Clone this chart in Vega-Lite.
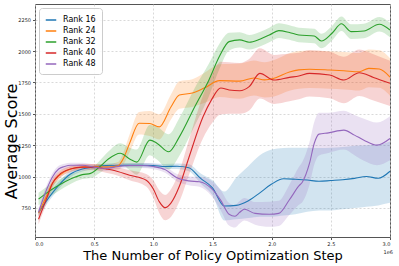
{
 "$schema": "https://vega.github.io/schema/vega-lite/v6.json",
 "width": 355, "height": 233,
 "autosize": {"type": "none"},
 "padding": {"left": 35, "top": 4, "right": 9, "bottom": 29},
 "background": "white",
 "config": {
  "font": "DejaVu Sans",
  "view": {"stroke": "#555", "strokeWidth": 1},
  "axis": {"labelFontSize": 5, "labelColor": "#222", "tickColor": "#555", "tickSize": 2.5, "domain": false, "gridColor": "#c8c8c8", "gridDash": [2, 2], "gridWidth": 0.7, "titleFontWeight": "normal", "titleColor": "#000", "labelPadding": 2, "labelOverlap": false},
  "legend": {"orient": "top-left", "offset": 4, "padding": 6, "fillColor": "rgba(255,255,255,0.85)", "strokeColor": "#ccc", "cornerRadius": 3, "symbolType": "stroke", "symbolSize": 110, "symbolStrokeWidth": 1.5, "labelFontSize": 8, "rowPadding": 0, "labelOffset": 6, "labelColor": "#000", "symbolOpacity": 1, "labelFont": "DejaVu Sans"}
 },
 "data": {"values": [
  {"s":"Rank 16","x":0.03,"m":712,"lo":687,"hi":737},
  {"s":"Rank 16","x":0.1,"m":810,"lo":780,"hi":840},
  {"s":"Rank 16","x":0.2,"m":930,"lo":900,"hi":960},
  {"s":"Rank 16","x":0.3,"m":1020,"lo":995,"hi":1045},
  {"s":"Rank 16","x":0.4,"m":1060,"lo":1040,"hi":1080},
  {"s":"Rank 16","x":0.5,"m":1075,"lo":1060,"hi":1090},
  {"s":"Rank 16","x":0.6,"m":1088,"lo":1073,"hi":1103},
  {"s":"Rank 16","x":0.7,"m":1090,"lo":1075,"hi":1105},
  {"s":"Rank 16","x":0.8,"m":1090,"lo":1075,"hi":1105},
  {"s":"Rank 16","x":0.9,"m":1090,"lo":1073,"hi":1107},
  {"s":"Rank 16","x":1.0,"m":1088,"lo":1070,"hi":1106},
  {"s":"Rank 16","x":1.1,"m":1080,"lo":1060,"hi":1100},
  {"s":"Rank 16","x":1.2,"m":1082,"lo":1060,"hi":1104},
  {"s":"Rank 16","x":1.3,"m":1070,"lo":1042,"hi":1098},
  {"s":"Rank 16","x":1.4,"m":985,"lo":945,"hi":1025},
  {"s":"Rank 16","x":1.5,"m":910,"lo":850,"hi":970},
  {"s":"Rank 16","x":1.6,"m":765,"lo":650,"hi":880},
  {"s":"Rank 16","x":1.7,"m":770,"lo":660,"hi":990},
  {"s":"Rank 16","x":1.8,"m":805,"lo":670,"hi":1080},
  {"s":"Rank 16","x":1.9,"m":870,"lo":680,"hi":1170},
  {"s":"Rank 16","x":2.0,"m":940,"lo":680,"hi":1215},
  {"s":"Rank 16","x":2.1,"m":982,"lo":690,"hi":1228},
  {"s":"Rank 16","x":2.2,"m":978,"lo":700,"hi":1230},
  {"s":"Rank 16","x":2.3,"m":972,"lo":720,"hi":1230},
  {"s":"Rank 16","x":2.4,"m":962,"lo":730,"hi":1228},
  {"s":"Rank 16","x":2.5,"m":968,"lo":730,"hi":1230},
  {"s":"Rank 16","x":2.6,"m":974,"lo":740,"hi":1235},
  {"s":"Rank 16","x":2.7,"m":985,"lo":750,"hi":1245},
  {"s":"Rank 16","x":2.8,"m":1000,"lo":760,"hi":1250},
  {"s":"Rank 16","x":2.9,"m":986,"lo":770,"hi":1255},
  {"s":"Rank 16","x":3.0,"m":1042,"lo":790,"hi":1280},

  {"s":"Rank 24","x":0.03,"m":707,"lo":677,"hi":737},
  {"s":"Rank 24","x":0.1,"m":850,"lo":820,"hi":880},
  {"s":"Rank 24","x":0.15,"m":950,"lo":922,"hi":978},
  {"s":"Rank 24","x":0.2,"m":1005,"lo":980,"hi":1030},
  {"s":"Rank 24","x":0.3,"m":1060,"lo":1040,"hi":1080},
  {"s":"Rank 24","x":0.4,"m":1075,"lo":1055,"hi":1095},
  {"s":"Rank 24","x":0.5,"m":1080,"lo":1060,"hi":1100},
  {"s":"Rank 24","x":0.6,"m":1075,"lo":1055,"hi":1095},
  {"s":"Rank 24","x":0.7,"m":1085,"lo":1055,"hi":1115},
  {"s":"Rank 24","x":0.75,"m":1150,"lo":1100,"hi":1200},
  {"s":"Rank 24","x":0.8,"m":1266,"lo":1196,"hi":1336},
  {"s":"Rank 24","x":0.88,"m":1425,"lo":1335,"hi":1515},
  {"s":"Rank 24","x":0.97,"m":1423,"lo":1323,"hi":1523},
  {"s":"Rank 24","x":1.05,"m":1396,"lo":1296,"hi":1496},
  {"s":"Rank 24","x":1.15,"m":1556,"lo":1456,"hi":1656},
  {"s":"Rank 24","x":1.22,"m":1650,"lo":1540,"hi":1760},
  {"s":"Rank 24","x":1.33,"m":1665,"lo":1555,"hi":1775},
  {"s":"Rank 24","x":1.43,"m":1705,"lo":1585,"hi":1825},
  {"s":"Rank 24","x":1.56,"m":1764,"lo":1634,"hi":1894},
  {"s":"Rank 24","x":1.73,"m":1760,"lo":1620,"hi":1900},
  {"s":"Rank 24","x":1.85,"m":1785,"lo":1645,"hi":1925},
  {"s":"Rank 24","x":1.94,"m":1770,"lo":1630,"hi":1910},
  {"s":"Rank 24","x":2.02,"m":1783,"lo":1638,"hi":1928},
  {"s":"Rank 24","x":2.15,"m":1833,"lo":1683,"hi":1983},
  {"s":"Rank 24","x":2.23,"m":1850,"lo":1700,"hi":2000},
  {"s":"Rank 24","x":2.32,"m":1855,"lo":1705,"hi":2005},
  {"s":"Rank 24","x":2.49,"m":1849,"lo":1699,"hi":1999},
  {"s":"Rank 24","x":2.61,"m":1843,"lo":1693,"hi":1993},
  {"s":"Rank 24","x":2.74,"m":1835,"lo":1685,"hi":1985},
  {"s":"Rank 24","x":2.82,"m":1862,"lo":1712,"hi":2012},
  {"s":"Rank 24","x":2.91,"m":1857,"lo":1707,"hi":2007},
  {"s":"Rank 24","x":3.0,"m":1793,"lo":1643,"hi":1943},

  {"s":"Rank 32","x":0.03,"m":821,"lo":771,"hi":871},
  {"s":"Rank 32","x":0.1,"m":870,"lo":822,"hi":918},
  {"s":"Rank 32","x":0.2,"m":930,"lo":885,"hi":975},
  {"s":"Rank 32","x":0.3,"m":980,"lo":940,"hi":1020},
  {"s":"Rank 32","x":0.4,"m":1015,"lo":980,"hi":1050},
  {"s":"Rank 32","x":0.47,"m":1025,"lo":988,"hi":1062},
  {"s":"Rank 32","x":0.55,"m":1080,"lo":1030,"hi":1130},
  {"s":"Rank 32","x":0.62,"m":1140,"lo":1080,"hi":1200},
  {"s":"Rank 32","x":0.72,"m":1186,"lo":1106,"hi":1266},
  {"s":"Rank 32","x":0.8,"m":1140,"lo":1050,"hi":1230},
  {"s":"Rank 32","x":0.86,"m":1115,"lo":1015,"hi":1215},
  {"s":"Rank 32","x":0.97,"m":1290,"lo":1170,"hi":1410},
  {"s":"Rank 32","x":1.03,"m":1266,"lo":1136,"hi":1396},
  {"s":"Rank 32","x":1.13,"m":1197,"lo":1057,"hi":1337},
  {"s":"Rank 32","x":1.22,"m":1316,"lo":1166,"hi":1466},
  {"s":"Rank 32","x":1.35,"m":1556,"lo":1406,"hi":1706},
  {"s":"Rank 32","x":1.47,"m":1770,"lo":1640,"hi":1900},
  {"s":"Rank 32","x":1.56,"m":1960,"lo":1860,"hi":2060},
  {"s":"Rank 32","x":1.64,"m":2075,"lo":2005,"hi":2145},
  {"s":"Rank 32","x":1.73,"m":2089,"lo":2029,"hi":2149},
  {"s":"Rank 32","x":1.81,"m":2070,"lo":2012,"hi":2128},
  {"s":"Rank 32","x":1.9,"m":2094,"lo":2036,"hi":2152},
  {"s":"Rank 32","x":1.98,"m":2128,"lo":2070,"hi":2186},
  {"s":"Rank 32","x":2.06,"m":2163,"lo":2105,"hi":2221},
  {"s":"Rank 32","x":2.15,"m":2148,"lo":2090,"hi":2206},
  {"s":"Rank 32","x":2.23,"m":2128,"lo":2070,"hi":2186},
  {"s":"Rank 32","x":2.36,"m":2120,"lo":2062,"hi":2178},
  {"s":"Rank 32","x":2.42,"m":2080,"lo":2022,"hi":2138},
  {"s":"Rank 32","x":2.51,"m":2142,"lo":2084,"hi":2200},
  {"s":"Rank 32","x":2.59,"m":2217,"lo":2159,"hi":2275},
  {"s":"Rank 32","x":2.67,"m":2155,"lo":2097,"hi":2213},
  {"s":"Rank 32","x":2.78,"m":2160,"lo":2102,"hi":2218},
  {"s":"Rank 32","x":2.91,"m":2214,"lo":2156,"hi":2272},
  {"s":"Rank 32","x":3.0,"m":2168,"lo":2110,"hi":2226},

  {"s":"Rank 40","x":0.03,"m":659,"lo":619,"hi":699},
  {"s":"Rank 40","x":0.1,"m":830,"lo":790,"hi":870},
  {"s":"Rank 40","x":0.15,"m":950,"lo":915,"hi":985},
  {"s":"Rank 40","x":0.2,"m":1010,"lo":980,"hi":1040},
  {"s":"Rank 40","x":0.3,"m":1060,"lo":1035,"hi":1085},
  {"s":"Rank 40","x":0.4,"m":1075,"lo":1050,"hi":1100},
  {"s":"Rank 40","x":0.5,"m":1075,"lo":1050,"hi":1100},
  {"s":"Rank 40","x":0.6,"m":1060,"lo":1030,"hi":1090},
  {"s":"Rank 40","x":0.66,"m":1050,"lo":1018,"hi":1082},
  {"s":"Rank 40","x":0.8,"m":1010,"lo":970,"hi":1050},
  {"s":"Rank 40","x":0.94,"m":970,"lo":920,"hi":1020},
  {"s":"Rank 40","x":1.0,"m":900,"lo":830,"hi":970},
  {"s":"Rank 40","x":1.05,"m":800,"lo":710,"hi":890},
  {"s":"Rank 40","x":1.1,"m":752,"lo":652,"hi":852},
  {"s":"Rank 40","x":1.15,"m":790,"lo":680,"hi":900},
  {"s":"Rank 40","x":1.22,"m":922,"lo":800,"hi":1044},
  {"s":"Rank 40","x":1.3,"m":1150,"lo":1010,"hi":1290},
  {"s":"Rank 40","x":1.42,"m":1476,"lo":1306,"hi":1646},
  {"s":"Rank 40","x":1.49,"m":1609,"lo":1419,"hi":1799},
  {"s":"Rank 40","x":1.57,"m":1705,"lo":1495,"hi":1915},
  {"s":"Rank 40","x":1.64,"m":1690,"lo":1500,"hi":1910},
  {"s":"Rank 40","x":1.73,"m":1684,"lo":1500,"hi":1904},
  {"s":"Rank 40","x":1.81,"m":1716,"lo":1526,"hi":1936},
  {"s":"Rank 40","x":1.9,"m":1822,"lo":1622,"hi":2022},
  {"s":"Rank 40","x":2.02,"m":1769,"lo":1579,"hi":1969},
  {"s":"Rank 40","x":2.15,"m":1790,"lo":1600,"hi":1980},
  {"s":"Rank 40","x":2.23,"m":1801,"lo":1616,"hi":1986},
  {"s":"Rank 40","x":2.32,"m":1822,"lo":1637,"hi":2007},
  {"s":"Rank 40","x":2.49,"m":1809,"lo":1624,"hi":1994},
  {"s":"Rank 40","x":2.61,"m":1769,"lo":1584,"hi":1954},
  {"s":"Rank 40","x":2.74,"m":1827,"lo":1642,"hi":2012},
  {"s":"Rank 40","x":2.86,"m":1790,"lo":1605,"hi":1975},
  {"s":"Rank 40","x":3.0,"m":1743,"lo":1563,"hi":1923},

  {"s":"Rank 48","x":0.03,"m":715,"lo":680,"hi":750},
  {"s":"Rank 48","x":0.1,"m":900,"lo":865,"hi":935},
  {"s":"Rank 48","x":0.15,"m":1000,"lo":970,"hi":1030},
  {"s":"Rank 48","x":0.2,"m":1060,"lo":1035,"hi":1085},
  {"s":"Rank 48","x":0.25,"m":1080,"lo":1058,"hi":1102},
  {"s":"Rank 48","x":0.3,"m":1090,"lo":1070,"hi":1110},
  {"s":"Rank 48","x":0.4,"m":1090,"lo":1070,"hi":1110},
  {"s":"Rank 48","x":0.5,"m":1075,"lo":1055,"hi":1095},
  {"s":"Rank 48","x":0.6,"m":1065,"lo":1045,"hi":1085},
  {"s":"Rank 48","x":0.7,"m":1080,"lo":1060,"hi":1100},
  {"s":"Rank 48","x":0.8,"m":1088,"lo":1068,"hi":1108},
  {"s":"Rank 48","x":0.9,"m":1088,"lo":1068,"hi":1108},
  {"s":"Rank 48","x":1.0,"m":1080,"lo":1058,"hi":1102},
  {"s":"Rank 48","x":1.1,"m":1055,"lo":1030,"hi":1080},
  {"s":"Rank 48","x":1.2,"m":990,"lo":960,"hi":1020},
  {"s":"Rank 48","x":1.3,"m":965,"lo":930,"hi":1000},
  {"s":"Rank 48","x":1.39,"m":958,"lo":918,"hi":998},
  {"s":"Rank 48","x":1.49,"m":906,"lo":846,"hi":966},
  {"s":"Rank 48","x":1.57,"m":810,"lo":730,"hi":890},
  {"s":"Rank 48","x":1.64,"m":699,"lo":609,"hi":789},
  {"s":"Rank 48","x":1.69,"m":683,"lo":593,"hi":773},
  {"s":"Rank 48","x":1.73,"m":715,"lo":625,"hi":805},
  {"s":"Rank 48","x":1.77,"m":739,"lo":649,"hi":829},
  {"s":"Rank 48","x":1.86,"m":706,"lo":616,"hi":796},
  {"s":"Rank 48","x":1.98,"m":699,"lo":599,"hi":799},
  {"s":"Rank 48","x":2.06,"m":706,"lo":606,"hi":806},
  {"s":"Rank 48","x":2.15,"m":815,"lo":695,"hi":935},
  {"s":"Rank 48","x":2.23,"m":925,"lo":775,"hi":1075},
  {"s":"Rank 48","x":2.26,"m":957,"lo":797,"hi":1117},
  {"s":"Rank 48","x":2.32,"m":1106,"lo":936,"hi":1276},
  {"s":"Rank 48","x":2.36,"m":1265,"lo":1095,"hi":1435},
  {"s":"Rank 48","x":2.4,"m":1338,"lo":1168,"hi":1508},
  {"s":"Rank 48","x":2.48,"m":1348,"lo":1188,"hi":1508},
  {"s":"Rank 48","x":2.61,"m":1370,"lo":1215,"hi":1525},
  {"s":"Rank 48","x":2.7,"m":1330,"lo":1170,"hi":1490},
  {"s":"Rank 48","x":2.78,"m":1290,"lo":1125,"hi":1460},
  {"s":"Rank 48","x":2.89,"m":1250,"lo":1090,"hi":1430},
  {"s":"Rank 48","x":3.0,"m":1303,"lo":1130,"hi":1480}
 ]},
 "layer": [
  {
   "mark": {"type": "area", "fillOpacity": 0.2, "interpolate": "monotone"},
   "encoding": {
    "x": {"field": "x", "type": "quantitative", "scale": {"domain": [0, 3], "nice": false},
          "axis": {"values": [0, 0.5, 1, 1.5, 2, 2.5, 3], "format": ".1f", "labelOverlap": false, "title": "The Number of Policy Optimization Step", "titleFontSize": 13, "titlePadding": 3}},
    "y": {"field": "lo", "type": "quantitative", "scale": {"domain": [518, 2375], "nice": false, "zero": false},
          "axis": {"values": [750, 1000, 1250, 1500, 1750, 2000, 2250], "format": "d", "labelOverlap": false, "title": "Average Score", "titleFontSize": 16, "titleX": -24, "titleY": 137, "titleBaseline": "middle", "titleAlign": "center"}},
    "y2": {"field": "hi"},
    "color": {"field": "s", "type": "nominal", "scale": {"domain": ["Rank 16", "Rank 24", "Rank 32", "Rank 40", "Rank 48"], "range": ["#1f77b4", "#ff7f0e", "#2ca02c", "#d62728", "#9467bd"]},
              "legend": {"title": null, "labelFontSize": 8, "symbolSize": 110, "rowPadding": 1, "padding": 6, "labelOffset": 6}}
   }
  },
  {
   "mark": {"type": "line", "strokeWidth": 1.1, "interpolate": "monotone"},
   "encoding": {
    "x": {"field": "x", "type": "quantitative",
          "axis": {"values": [0, 0.5, 1, 1.5, 2, 2.5, 3], "format": ".1f", "labelOverlap": false, "title": "The Number of Policy Optimization Step", "titleFontSize": 13, "titlePadding": 3}},
    "y": {"field": "m", "type": "quantitative",
          "axis": {"values": [750, 1000, 1250, 1500, 1750, 2000, 2250], "format": "d", "labelOverlap": false, "title": "Average Score", "titleFontSize": 16, "titleX": -24, "titleY": 137, "titleBaseline": "middle", "titleAlign": "center"}},
    "color": {"field": "s", "type": "nominal", "legend": {"title": null, "labelFontSize": 8, "symbolSize": 110, "rowPadding": 1, "padding": 6, "labelOffset": 6}}
   }
  },
  {
   "data": {"values": [{"t": "1e6"}]},
   "mark": {"type": "text", "align": "right", "baseline": "middle", "dx": 3, "dy": 15, "fontSize": 5, "color": "#222", "y": "height"},
   "encoding": {"x": {"datum": 3}, "text": {"field": "t"}}
  }
 ]
}
